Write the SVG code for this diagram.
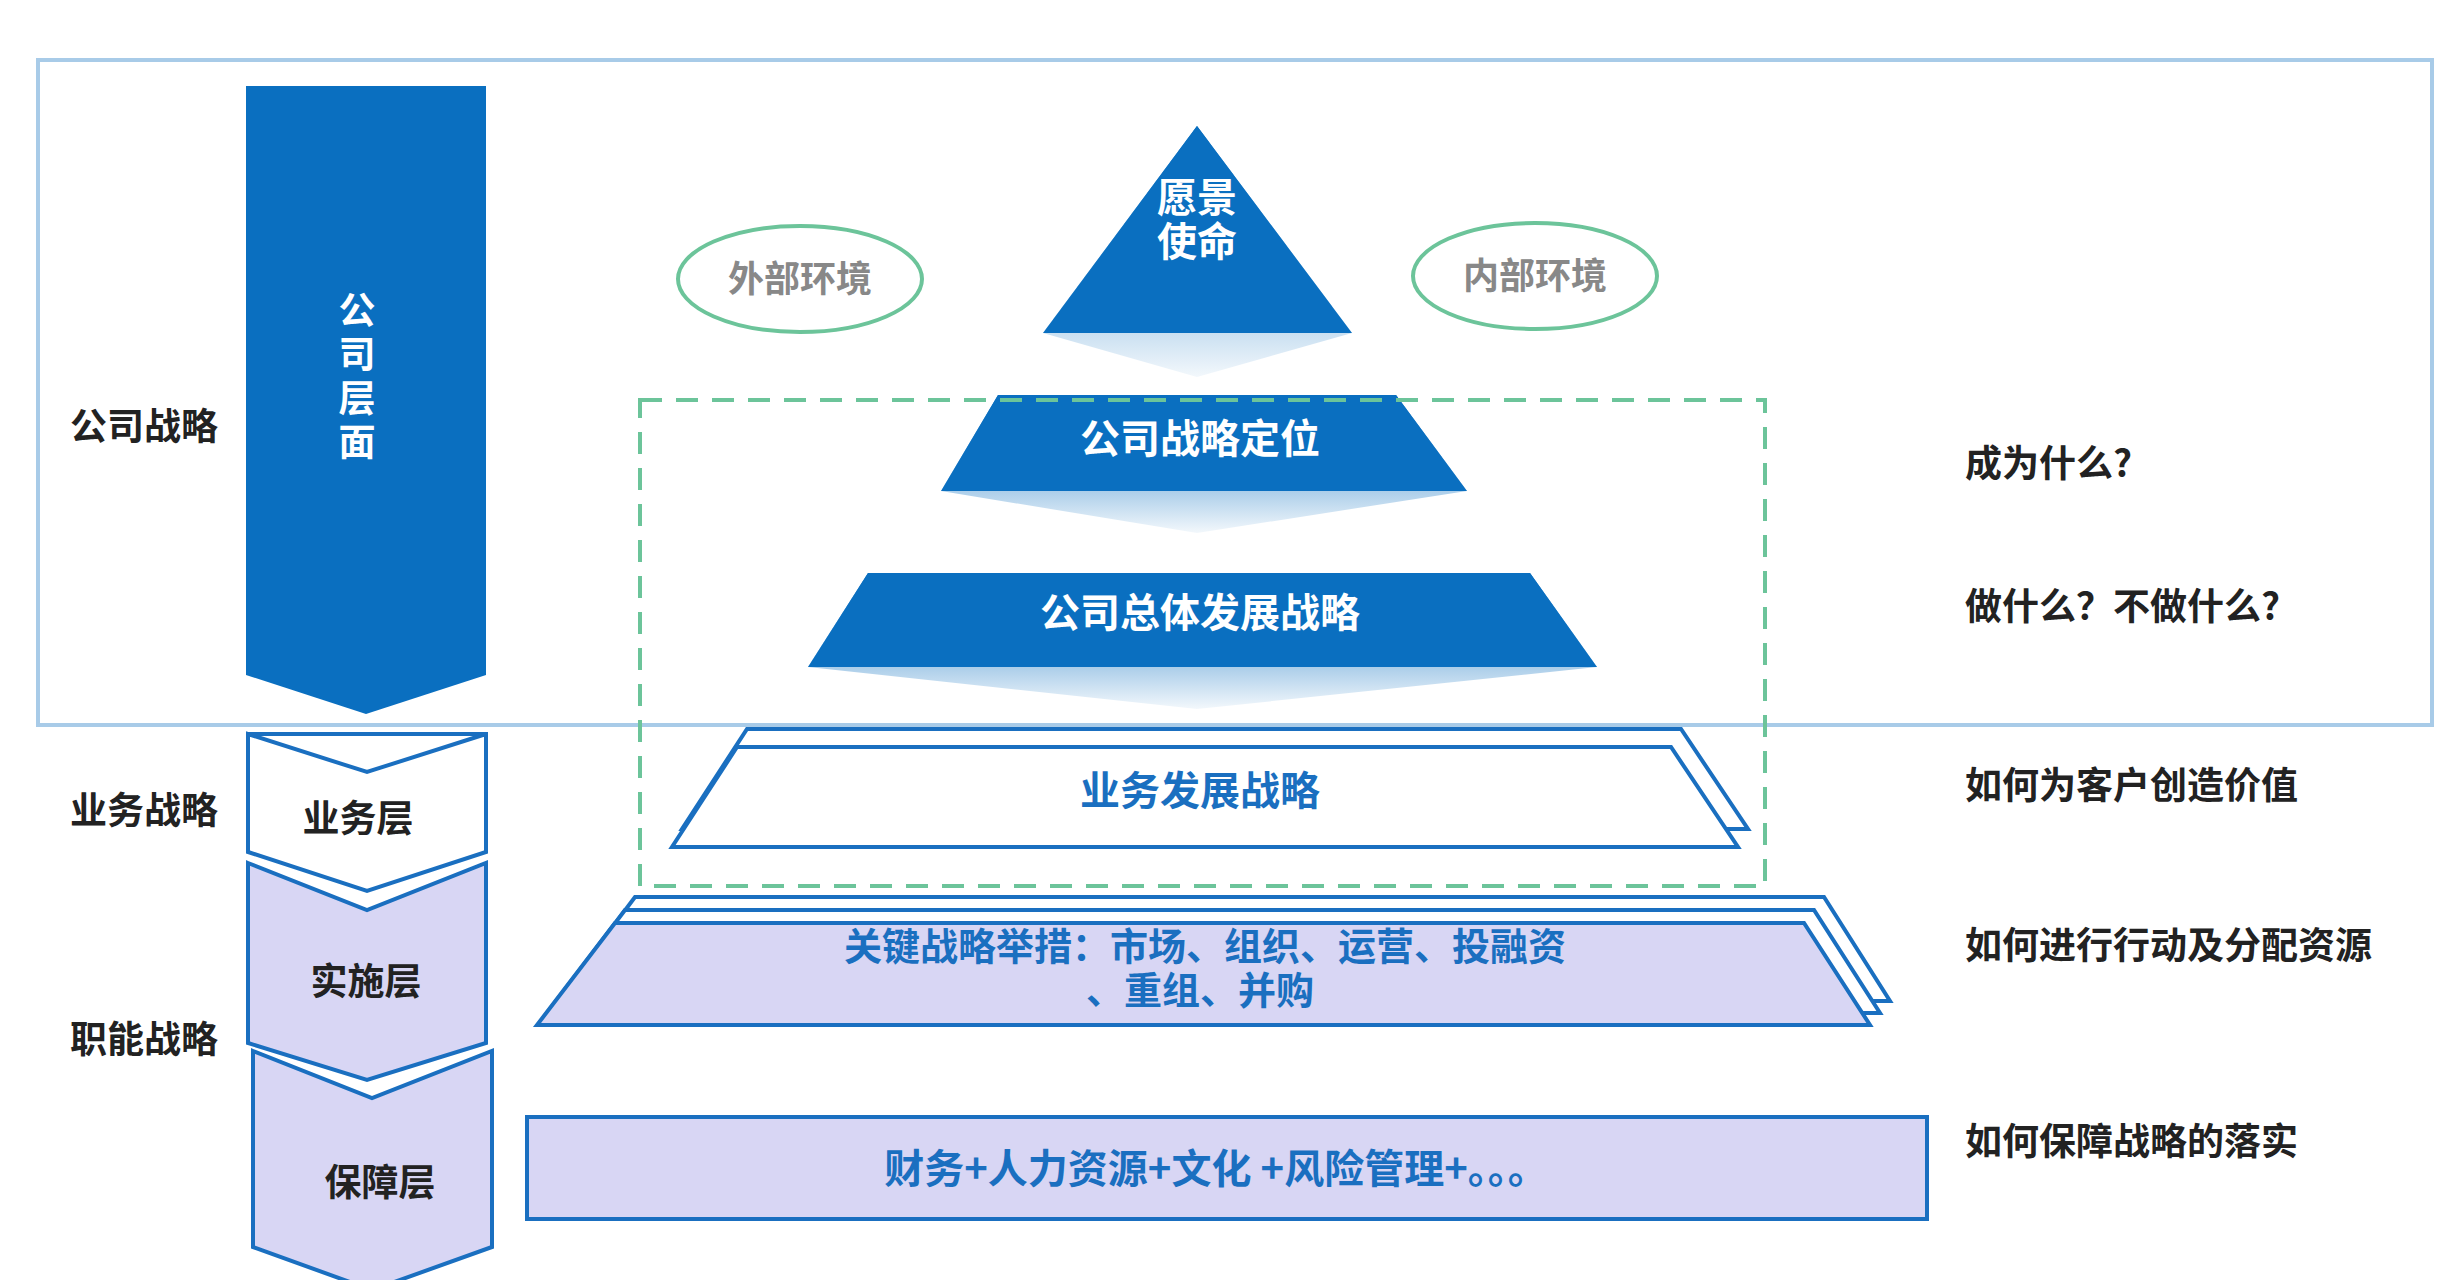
<svg xmlns="http://www.w3.org/2000/svg" width="2460" height="1280" viewBox="0 0 2460 1280">
<style>
text{font-family:"Noto Sans CJK SC","Liberation Sans",sans-serif;font-weight:bold}
.lbl{font-size:37px;fill:#222}
.w{fill:#fff;font-size:40px;text-anchor:middle}
.v{fill:#fff;font-size:37px;text-anchor:middle}
.b{fill:#1a6fc0;font-size:40px;text-anchor:middle}
.k{fill:#1a6fc0;font-size:38px;text-anchor:middle}
.ell{fill:#fff;stroke:#6cc49a;stroke-width:4}
.et{fill:#888;font-size:36px;text-anchor:middle}
.chev{stroke:#1a6fc0;stroke-width:4}
</style>
<defs>
<linearGradient id="fade" x1="0" y1="0" x2="0" y2="1">
<stop offset="0" stop-color="#0a6fc0"/><stop offset="1" stop-color="#0a6fc0" stop-opacity="0.05"/>
</linearGradient>
</defs>
<rect width="2460" height="1280" fill="#fff"/>
<rect x="38" y="60" width="2394" height="665" fill="none" stroke="#a8cbe8" stroke-width="4"/>
<g id="labels-left">
<text class="lbl" x="70" y="440">公司战略</text>
<text class="lbl" x="70" y="824">业务战略</text>
<text class="lbl" x="70" y="1053">职能战略</text>
</g>
<g id="company-arrow">
<polygon points="246,86 486,86 486,675 366,714 246,675" fill="#0a6fc0"/>
<text class="v" x="357" y="324">公</text><text class="v" x="357" y="368">司</text>
<text class="v" x="357" y="412">层</text><text class="v" x="357" y="456">面</text>
</g>
<g id="chev-business">
<polygon class="chev" points="248,734 486,734 486,852 367,891 248,852 248,734 367,772 486,734" fill="#fff"/>
<text class="lbl" x="358" y="832" text-anchor="middle">业务层</text>
</g>
<g id="chev-impl">
<polygon class="chev" points="248,863 367,910 486,863 486,1043 367,1080 248,1043" fill="#d8d6f4"/>
<text class="lbl" x="366" y="995" text-anchor="middle">实施层</text>
</g>
<g id="chev-support">
<polygon class="chev" points="253,1051 372,1098 492,1051 492,1247 372,1290 253,1247" fill="#d8d6f4"/>
<text class="lbl" x="380" y="1196" text-anchor="middle">保障层</text>
</g>
<g id="vision">
<polygon points="1197,126 1352,333 1197,377 1043,333" fill="url(#fade)"/>
<polygon points="1197,126 1352,333 1043,333" fill="#0a6fc0"/>
<text class="w" x="1197" y="212">愿景</text><text class="w" x="1197" y="256">使命</text>
</g>
<g id="positioning">
<polygon points="998,395 1396,395 1467,491 1197,533 941,491" fill="url(#fade)"/>
<polygon points="998,395 1396,395 1467,491 941,491" fill="#0a6fc0"/>
<text class="w" x="1200" y="453">公司战略定位</text>
</g>
<g id="overall">
<polygon points="868,573 1530,573 1597,667 1197,709 808,667" fill="url(#fade)"/>
<polygon points="868,573 1530,573 1597,667 808,667" fill="#0a6fc0"/>
<text class="w" x="1200" y="627">公司总体发展战略</text>
</g>
<g id="env-ext"><ellipse class="ell" cx="800" cy="279" rx="122" ry="53"/><text class="et" x="800" y="292">外部环境</text></g>
<g id="env-int"><ellipse class="ell" cx="1535" cy="276" rx="122" ry="53"/><text class="et" x="1535" y="289">内部环境</text></g>
<g id="biz">
<polygon points="747,729 1681,729 1748,829 682,829" fill="#fff" stroke="#1a6fc0" stroke-width="4"/>
<polygon points="737,747 1671,747 1738,847 672,847" fill="#fff" stroke="#1a6fc0" stroke-width="4"/>
<text class="b" x="1200" y="805">业务发展战略</text>
</g>
<g id="key">
<polygon points="635,897 1824,897 1890,1001 557,1001" fill="#fff" stroke="#1a6fc0" stroke-width="4"/>
<polygon points="625,910 1814,910 1880,1013 547,1013" fill="#fff" stroke="#1a6fc0" stroke-width="4"/>
<polygon points="615,923 1804,923 1870,1025 537,1025" fill="#d8d6f4" stroke="#1a6fc0" stroke-width="4"/>
<text class="k" x="1205" y="960">关键战略举措：市场、组织、运营、投融资</text>
<text class="k" x="1200" y="1004">、重组、并购</text>
</g>
<g id="support">
<rect x="527" y="1117" width="1400" height="102" fill="#d8d6f4" stroke="#1a6fc0" stroke-width="4"/>
<text class="b" x="1216" y="1183">财务+人力资源+文化 +风险管理+。。。</text>
</g>
<rect x="640" y="400" width="1125" height="486" fill="none" stroke="#6cc49a" stroke-width="4" stroke-dasharray="22,14"/>
<g id="labels-right">
<text class="lbl" x="1965" y="477">成为什么?</text>
<text class="lbl" x="1965" y="620">做什么？不做什么?</text>
<text class="lbl" x="1965" y="799">如何为客户创造价值</text>
<text class="lbl" x="1965" y="959">如何进行行动及分配资源</text>
<text class="lbl" x="1965" y="1155">如何保障战略的落实</text>
</g>
<g id="connectors"/>
</svg>
